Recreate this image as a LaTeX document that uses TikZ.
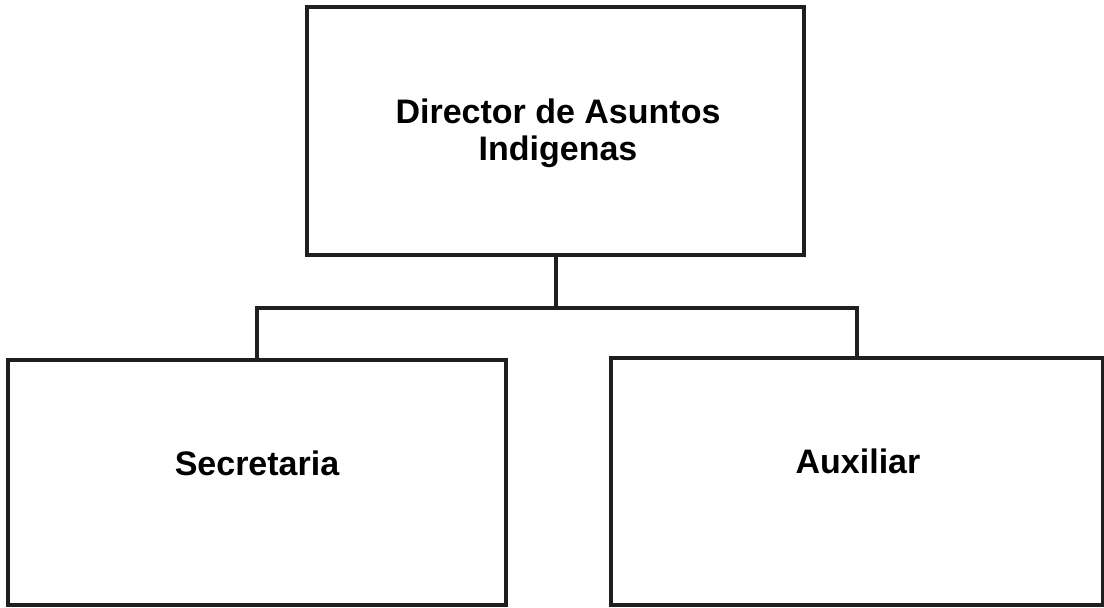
\documentclass[tikz,border=0pt]{standalone}
\usepackage{fontspec}
\setmainfont{Liberation Sans}
\begin{document}
\begin{tikzpicture}[x=1pt,y=-1pt,
  box/.style={draw=black!88, line width=4pt, minimum width=#1, inner sep=0pt},
  lbl/.style={font=\bfseries\fontsize{34}{37}\selectfont, align=center, text=black, inner sep=0pt},
  conn/.style={draw=black!88, line width=4pt}]
\useasboundingbox (0,0) rectangle (1104,608);
\node[box=497pt, minimum height=248pt] (top) at (555.5,131) {};
\node[box=498pt, minimum height=245pt] (sec) at (257,482.5) {};
\node[box=492pt, minimum height=247pt] (aux) at (857,481.5) {};
\node[lbl] (ttop) at (558,133) {Director de Asuntos\\Indigenas};
\node[lbl] (tsec) at (257,463) {Secretaria};
\node[lbl] (taux) at (858,461) {Auxiliar};
\coordinate (bus) at (557,308);
\draw[conn] (top.south) -- (top.south |- bus);
\draw[conn] (sec.north) -- (sec.north |- bus) -- (aux.north |- bus) -- (aux.north);
\end{tikzpicture}
\end{document}
